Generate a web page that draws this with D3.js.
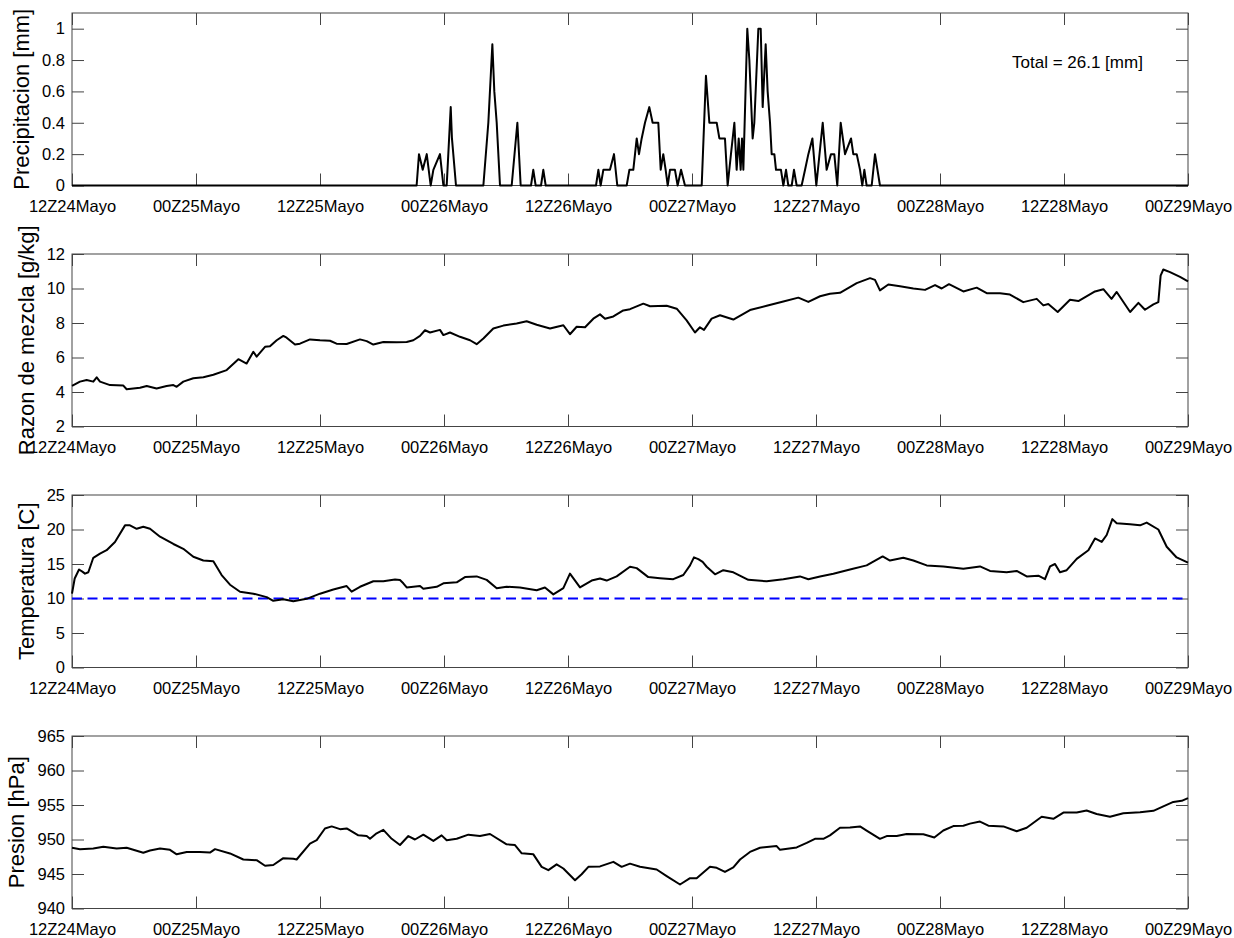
<!DOCTYPE html>
<html lang='es'>

<head>
    <meta charset='UTF-8' />
    <title>Serie temporal estacion</title>
    <script src="https://cdn.jsdelivr.net/npm/d3@7"></script>
    <style>
        html,
        body {
            margin: 0;
            background: white;
        }

        svg text {
            font-family: "Liberation Sans", Arial, Helvetica, sans-serif;
        }
    </style>
</head>

<body>
    <div id="container"></div>

    <script>
        // begin data //

        // hours since 12Z24Mayo
        const timeTicks = [0, 12, 24, 36, 48, 60, 72, 84, 96, 108];
        const timeLabels = ["12Z24Mayo", "00Z25Mayo", "12Z25Mayo", "00Z26Mayo", "12Z26Mayo",
            "00Z27Mayo", "12Z27Mayo", "00Z28Mayo", "12Z28Mayo", "00Z29Mayo"];

        const precipHours = [0, 33.35, 33.58, 33.94, 34.33, 34.71, 34.97, 35.61, 35.94, 36.26, 36.65, 36.77, 37.16,
            39.81, 40.29, 40.68, 40.87, 41.1, 41.42, 42.55, 43.1, 43.42, 44.42, 44.64, 44.87, 45.39, 45.61, 45.84,
            50.71, 50.94, 51.16, 51.42, 52.06, 52.45, 52.77, 53.68, 53.94, 54.32, 54.65, 54.87, 55.13, 55.45, 55.87,
            56.19, 56.74, 56.97, 57.22, 57.45, 57.65, 57.87, 58.35, 58.61, 58.94, 59.32, 60.94, 61.35, 61.68, 62.39,
            62.65, 63.19, 63.45, 63.77, 64.1, 64.32, 64.52, 64.71, 64.84, 64.97, 65.35, 65.55, 65.87, 66.03, 66.42,
            66.65, 66.84, 67.13, 67.32, 67.55, 67.71, 67.97, 68.13, 68.61, 68.84, 69.1, 69.32, 69.65, 69.87, 70.13,
            70.61, 70.94, 71.26, 71.65, 72.03, 72.65, 73.03, 73.45, 73.77, 74.06, 74.39, 74.81, 75.39, 75.61, 75.94,
            76.26, 76.48, 76.68, 76.9, 77.39, 77.71, 78.19, 108];
        const precipValues = [0, 0, 0.2, 0.1, 0.2, 0, 0.1, 0.2, 0, 0, 0.5, 0.3, 0,
            0, 0.4, 0.9, 0.6, 0.4, 0, 0, 0.4, 0, 0, 0.1, 0, 0, 0.1, 0,
            0, 0.1, 0, 0.1, 0.1, 0.2, 0, 0, 0.1, 0.1, 0.3, 0.2, 0.3, 0.4, 0.5,
            0.4, 0.4, 0.1, 0.2, 0.1, 0, 0.1, 0.1, 0, 0.1, 0, 0, 0.7, 0.4, 0.4,
            0.3, 0.3, 0, 0.2, 0.4, 0.1, 0.3, 0.1, 0.3, 0.1, 1.0, 0.8, 0.3, 0.4, 1.0,
            1.0, 0.5, 0.9, 0.6, 0.4, 0.2, 0.2, 0.1, 0.1, 0, 0.1, 0, 0, 0.1, 0,
            0, 0.1, 0.2, 0.3, 0, 0.4, 0.1, 0.2, 0.2, 0, 0.4, 0.2, 0.3, 0.2, 0.2,
            0.1, 0, 0.1, 0, 0, 0.2, 0, 0];
        const precipTotal = "Total = 26.1 [mm]";

        const mixHours = [0, 0.77, 1.42, 2.06, 2.39, 2.71, 3.68, 4.97, 5.29, 6.58, 7.23, 8.19, 9.16, 9.81, 10.13,
            10.77, 11.74, 12.71, 13.68, 14.97, 16.1, 16.9, 17.55, 17.87, 18.68, 19.16, 19.81, 20.45, 20.77, 21.58,
            22.06, 23.03, 24.0, 24.97, 25.6, 26.58, 27.87, 28.52, 29.16, 30.13, 31.42, 32.39, 33.03, 33.68, 34.16,
            34.65, 35.61, 35.94, 36.58, 37.55, 38.52, 39.16, 39.81, 40.77, 41.74, 43.03, 44.0, 44.97, 46.26, 47.55,
            48.19, 48.84, 49.65, 50.45, 51.1, 51.58, 52.39, 53.35, 54.0, 55.29, 55.94, 57.55, 58.52, 59.48, 60.29,
            60.77, 61.16, 61.9, 62.71, 64.0, 65.61, 67.23, 68.84, 70.29, 71.26, 72.39, 73.35, 74.32, 75.94, 77.23,
            77.71, 78.19, 79.0, 80.13, 81.42, 82.55, 83.52, 84.16, 84.87, 86.26, 87.55, 88.52, 89.81, 90.77, 92.06,
            93.36, 94.0, 94.48, 95.39, 96.58, 97.39, 99.0, 99.81, 100.6, 101.1, 102.4, 103.2, 103.84, 104.65, 105.13,
            105.35, 105.61, 106.26, 107.23, 108];
        const mixValues = [4.35, 4.6, 4.69, 4.6, 4.85, 4.6, 4.4, 4.37, 4.16, 4.25, 4.35, 4.2, 4.35, 4.4, 4.3,
            4.6, 4.8, 4.85, 5.0, 5.27, 5.9, 5.65, 6.33, 6.05, 6.62, 6.65, 7.0, 7.25, 7.15, 6.75,
            6.8, 7.05, 7.0, 6.97, 6.8, 6.78, 7.05, 6.95, 6.75, 6.9, 6.88, 6.9, 7.0, 7.25, 7.58,
            7.45, 7.6, 7.3, 7.45, 7.2, 7.0, 6.77, 7.1, 7.68, 7.85, 7.97, 8.1, 7.9, 7.68, 7.87,
            7.35, 7.78, 7.75, 8.25, 8.5, 8.25, 8.38, 8.73, 8.8, 9.12, 8.97, 9.0, 8.83, 8.15, 7.45,
            7.75, 7.6, 8.25, 8.45, 8.2, 8.75, 9.0, 9.25, 9.47, 9.22, 9.55, 9.7, 9.75, 10.31, 10.6,
            10.5, 9.89, 10.23, 10.13, 10.0, 9.92, 10.2, 10.0, 10.25, 9.83, 10.05, 9.73, 9.73, 9.65, 9.21,
            9.4, 9.02, 9.1, 8.64, 9.35, 9.27, 9.83, 9.96, 9.4, 9.8, 8.64, 9.17, 8.77, 9.08, 9.21,
            10.75, 11.1, 10.95, 10.67, 10.42];

        const tempHours = [0, 0.26, 0.68, 1.0, 1.26, 1.58, 2.06, 2.71, 3.35, 4.16, 5.13, 5.61, 6.26, 6.9, 7.55,
            8.52, 9.81, 10.77, 11.74, 12.71, 13.68, 14.48, 15.29, 16.26, 17.55, 18.84, 19.48, 20.45, 21.42, 22.71,
            24.0, 25.29, 26.58, 27.06, 27.87, 29.16, 30.13, 31.26, 31.74, 32.06, 32.39, 33.68, 34.0, 35.29, 35.94,
            37.23, 38.03, 39.16, 40.13, 41.1, 42.06, 43.35, 44.97, 45.77, 46.58, 47.55, 48.19, 49.16, 50.29, 51.1,
            51.74, 52.71, 54.0, 54.65, 55.77, 56.9, 58.19, 59.16, 59.81, 60.19, 60.61, 61.03, 61.42, 62.23, 63.03,
            64.0, 65.45, 67.23, 68.84, 70.45, 71.26, 72.39, 73.68, 75.29, 76.9, 78.45, 79.16, 80.45, 81.42, 82.71,
            84.32, 86.26, 87.87, 88.84, 90.45, 91.42, 92.39, 93.52, 94.16, 94.65, 95.13, 95.61, 96.26, 97.23, 98.36,
            99.0, 99.65, 100.13, 100.68, 101.1, 102.39, 103.36, 104.0, 105.13, 105.94, 106.9, 108];
        const tempValues = [10.7, 12.9, 14.2, 13.9, 13.6, 13.8, 15.9, 16.5, 17.0, 18.2, 20.6, 20.6, 20.1, 20.4, 20.1,
            18.95, 17.9, 17.2, 16.05, 15.5, 15.4, 13.4, 12.0, 10.97, 10.7, 10.2, 9.66, 9.9, 9.6, 9.95,
            10.7, 11.3, 11.8, 11.0, 11.7, 12.5, 12.5, 12.75, 12.67, 12.2, 11.6, 11.8, 11.4, 11.7, 12.2,
            12.35, 13.1, 13.2, 12.7, 11.5, 11.7, 11.6, 11.2, 11.6, 10.6, 11.5, 13.6, 11.6, 12.6, 12.9,
            12.6, 13.2, 14.6, 14.4, 13.1, 12.95, 12.8, 13.4, 14.8, 15.96, 15.7, 15.3, 14.6, 13.5, 14.1,
            13.8, 12.7, 12.5, 12.8, 13.2, 12.8, 13.2, 13.6, 14.2, 14.8, 16.1, 15.5, 15.9, 15.5, 14.8,
            14.65, 14.3, 14.65, 14.0, 13.8, 14.0, 13.2, 13.3, 12.8, 14.65, 15.0, 13.8, 14.1, 15.75, 17.0,
            18.7, 18.2, 19.2, 21.5, 20.9, 20.75, 20.6, 21.0, 20.0, 17.5, 15.95, 15.2];
        const tempReference = 10;

        const presHours = [0, 0.77, 2.06, 3.03, 4.32, 5.29, 6.9, 7.55, 8.52, 9.48, 10.13, 11.1, 12.39, 13.35, 13.84,
            15.29, 16.58, 17.87, 18.68, 19.48, 20.45, 21.42, 21.74, 23.03, 23.68, 24.48, 25.13, 25.94, 26.58, 27.71,
            28.52, 28.84, 29.48, 30.13, 30.94, 31.74, 32.55, 33.19, 34.0, 34.97, 35.77, 36.26, 37.23, 38.36, 39.48,
            40.45, 42.06, 42.87, 43.52, 44.65, 45.45, 46.1, 46.9, 47.55, 48.68, 49.32, 49.97, 51.1, 52.39, 53.19,
            54.0, 54.97, 56.58, 57.55, 58.84, 59.81, 60.45, 61.74, 62.39, 63.19, 64.0, 64.65, 65.61, 66.58, 68.19,
            68.52, 70.13, 71.1, 71.9, 72.71, 73.35, 74.32, 75.29, 76.26, 76.9, 78.19, 78.84, 79.81, 80.77, 82.39,
            83.45, 84.32, 85.29, 86.26, 86.9, 87.87, 88.68, 90.13, 91.42, 92.39, 93.84, 94.97, 95.94, 97.23, 98.19,
            99.16, 100.45, 101.74, 103.36, 104.65, 105.61, 106.58, 107.39, 108];
        const presValues = [948.8, 948.6, 948.7, 948.94, 948.7, 948.8, 948.07, 948.4, 948.7, 948.5, 947.85, 948.2, 948.2, 948.1, 948.6,
            947.98, 947.1, 947.0, 946.2, 946.3, 947.3, 947.2, 947.1, 949.4, 949.9, 951.6, 951.9, 951.5, 951.6, 950.6,
            950.5, 950.1, 950.9, 951.4, 950.1, 949.2, 950.5, 950.0, 950.7, 949.8, 950.6, 949.9, 950.1, 950.7, 950.5,
            950.8, 949.3, 949.2, 948.0, 947.85, 946.04, 945.56, 946.4, 945.8, 944.1, 944.97, 946.04, 946.1, 946.76, 946.04,
            946.5, 946.04, 945.65, 944.7, 943.48, 944.4, 944.4, 946.04, 945.9, 945.3, 945.95, 947.1, 948.2, 948.8, 949.05,
            948.5, 948.85, 949.5, 950.1, 950.1, 950.6, 951.7, 951.75, 951.9, 951.3, 950.1, 950.5, 950.5, 950.8, 950.75,
            950.3, 951.3, 951.95, 952.0, 952.3, 952.6, 952.0, 951.9, 951.2, 951.7, 953.3, 953.0, 953.9, 953.9, 954.2,
            953.7, 953.3, 953.8, 953.95, 954.15, 954.8, 955.45, 955.6, 956.0];

        // end data //

        // begin layout //

        const width = 1234;
        const height = 938;
        const plotLeft = 72;
        const plotRight = 1188;
        const panelHeight = 172.5;
        const panelGap = 241;
        const firstPanelTop = 13;

        const font = '"Liberation Sans", Arial, Helvetica, sans-serif';

        const svg = d3.select("#container")
            .append("svg")
            .attr("width", width)
            .attr("height", height);

        const x = d3.scaleLinear().domain([0, 108]).range([plotLeft, plotRight]);

        const panels = [
            {
                hours: precipHours, values: precipValues, domain: [0, 1.1],
                ticks: [0, 0.2, 0.4, 0.6, 0.8, 1], label: "Precipitacion [mm]",
                format: d => String(+d.toFixed(1))
            },
            {
                hours: mixHours, values: mixValues, domain: [2, 12],
                ticks: [2, 4, 6, 8, 10, 12], label: "Razon de mezcla [g/kg]",
                format: d => String(d)
            },
            {
                hours: tempHours, values: tempValues, domain: [0, 25],
                ticks: [0, 5, 10, 15, 20, 25], label: "Temperatura [C]",
                format: d => String(d)
            },
            {
                hours: presHours, values: presValues, domain: [940, 965],
                ticks: [940, 945, 950, 955, 960, 965], label: "Presion [hPa]",
                format: d => String(d)
            }
        ];

        // end layout //

        function styleAxis(g) {
            g.attr("font-family", font).attr("font-size", 16.5);
            g.select(".domain").remove();
            g.selectAll(".tick line").attr("stroke", "#444");
            g.selectAll(".tick text").attr("fill", "#000");
        }

        function drawPanel(panel, index) {
            const top = firstPanelTop + index * panelGap;
            const bottom = top + panelHeight;
            const y = d3.scaleLinear().domain(panel.domain).range([bottom, top]);

            const g = svg.append("g").attr("class", "panel");

            // ticks pointing inwards on all four sides
            g.append("g")
                .attr("transform", `translate(0,${bottom})`)
                .call(d3.axisBottom(x).tickValues(timeTicks)
                    .tickFormat((d, i) => timeLabels[i])
                    .tickSizeInner(-12).tickSizeOuter(0).tickPadding(14.5))
                .call(styleAxis);

            g.append("g")
                .attr("transform", `translate(0,${top})`)
                .call(d3.axisTop(x).tickValues(timeTicks).tickFormat("")
                    .tickSizeInner(-12).tickSizeOuter(0))
                .call(styleAxis);

            const leftAxis = g.append("g")
                .attr("transform", `translate(${plotLeft},0)`)
                .call(d3.axisLeft(y).tickValues(panel.ticks).tickFormat(panel.format)
                    .tickSizeInner(-12).tickSizeOuter(0).tickPadding(7))
                .call(styleAxis);

            g.append("g")
                .attr("transform", `translate(${plotRight},0)`)
                .call(d3.axisRight(y).tickValues(panel.ticks).tickFormat("")
                    .tickSizeInner(-12).tickSizeOuter(0))
                .call(styleAxis);

            g.append("rect")
                .attr("x", plotLeft)
                .attr("y", top)
                .attr("width", plotRight - plotLeft)
                .attr("height", bottom - top)
                .attr("fill", "none")
                .attr("stroke", "#444")
                .attr("stroke-width", 1);

            if (panel.label === "Temperatura [C]") {
                g.append("line")
                    .attr("x1", x(0))
                    .attr("x2", x(108))
                    .attr("y1", y(tempReference))
                    .attr("y2", y(tempReference))
                    .attr("stroke", "#0000ff")
                    .attr("stroke-width", 2)
                    .attr("stroke-dasharray", "10,5.5");
            }

            const points = panel.hours.map((h, i) => [h, panel.values[i]]);

            g.append("path")
                .datum(points)
                .attr("fill", "none")
                .attr("stroke", "black")
                .attr("stroke-width", 2)
                .attr("stroke-linejoin", "round")
                .attr("d", d3.line()
                    .x(d => x(d[0]))
                    .y(d => y(d[1])));

            // y label sits left of the widest tick label (bbox is in the axis' own coordinates)
            const tickBox = leftAxis.node().getBBox();
            const labelX = plotLeft + tickBox.x - 13;
            g.append("text")
                .attr("transform", `translate(${labelX},${(top + bottom) / 2}) rotate(-90)`)
                .attr("text-anchor", "middle")
                .attr("font-family", font)
                .attr("font-size", 22)
                .text(panel.label);

            if (index === 0) {
                g.append("text")
                    .attr("x", 1012)
                    .attr("y", top + 55)
                    .attr("font-family", font)
                    .attr("font-size", 17)
                    .text(precipTotal);
            }
        }

        panels.forEach(drawPanel);
    </script>
</body>

</html>
